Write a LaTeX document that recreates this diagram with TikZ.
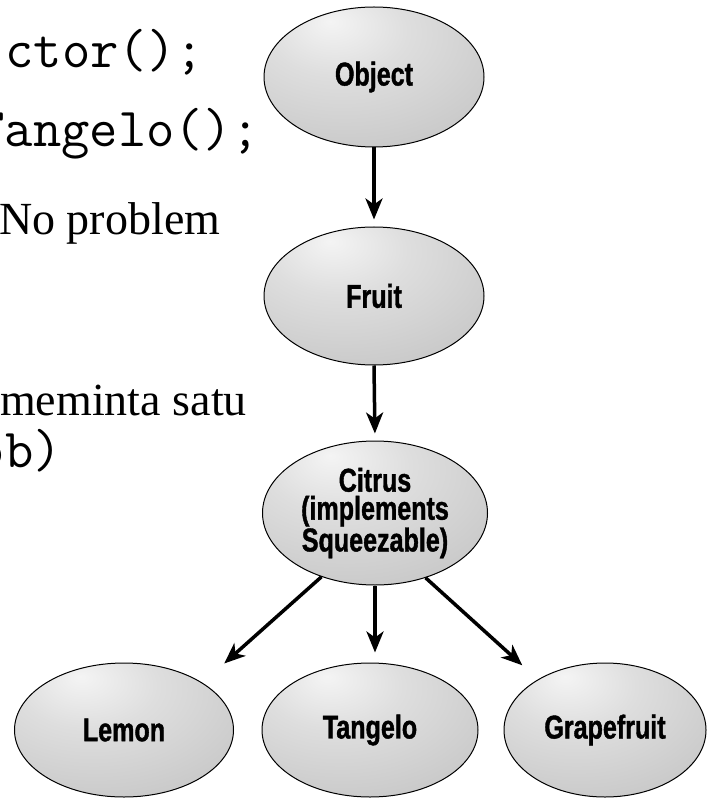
\documentclass[tikz,border=0pt]{standalone}
\usepackage{fontspec}
\setmainfont{Liberation Serif}
\newfontfamily\lblfont[FakeStretch=0.76, FakeBold=1.2]{Liberation Sans}
\usetikzlibrary{arrows.meta,shapes.geometric}

\definecolor{shadeHi}{RGB}{244,244,244}
\definecolor{shadeMid}{RGB}{222,222,222}
\definecolor{shadeLo}{RGB}{186,186,186}
\pgfdeclareradialshading{softgray}{\pgfpoint{-10bp}{20bp}}{%
  color(0bp)=(shadeHi); color(16bp)=(shadeMid); color(55bp)=(shadeLo); color(90bp)=(shadeLo)}

\tikzset{
  cls/.style={ellipse, draw=black, line width=1pt, shading=softgray,
    inner sep=0pt, align=center,
    font=\lblfont\bfseries\fontsize{33}{28}\selectfont},
  arr/.style={line width=3.5pt, -{Stealth[length=21pt, width=17pt, inset=6pt]}},
  codetxt/.style={inner sep=0pt, anchor=base east, font=\ttfamily\fontsize{55}{55}\selectfont},
  prose/.style={inner sep=0pt, anchor=base west, font=\rmfamily\fontsize{46}{46}\selectfont},
}

\begin{document}
\begin{tikzpicture}[x=1pt, y=-1pt]
  \path[fill=white, use as bounding box] (0,0) rectangle (711,799);

  % code and remarks on the left
  \node[codetxt] (t1) at (204,68) {ctor();};
  \node[codetxt] (t2) at (260,147) {Tangelo();};
  \node[prose]   (t3) at (-1,235) {No problem};
  \node[prose]   (t4) at (0,415) {meminta satu};
  \node[codetxt] (t5) at (62,467) {ob)};

  % class hierarchy
  \node[cls, minimum width=220pt, minimum height=140pt] (object) at (374,77) {Object};
  \node[cls, minimum width=220pt, minimum height=138pt] (fruit) at (374,296) {Fruit};
  \node[cls, minimum width=225pt, minimum height=144pt] (citrus) at (375,513)
    {Citrus\\(implements\\Squeezable)};
  \node[cls, minimum width=219pt, minimum height=134pt] (lemon) at (124,730) {Lemon};
  \node[cls, minimum width=216pt, minimum height=134pt] (tangelo) at (370,730) {Tangelo};
  \node[cls, minimum width=202pt, minimum height=134pt] (grape) at (605,730) {Grapefruit};

  \draw[arr, shorten >=7pt] (object.south) -- (fruit.north);
  \draw[arr, shorten >=7pt] (fruit.south) -- (citrus.north);
  \draw[arr, shorten >=29pt] (citrus.230) -- (lemon.31);
  \draw[arr, shorten >=10pt] (citrus.south) -- (citrus.south |- tangelo.north);
  \draw[arr, shorten >=21pt] (citrus.308) -- (grape.143);
\end{tikzpicture}
\end{document}
